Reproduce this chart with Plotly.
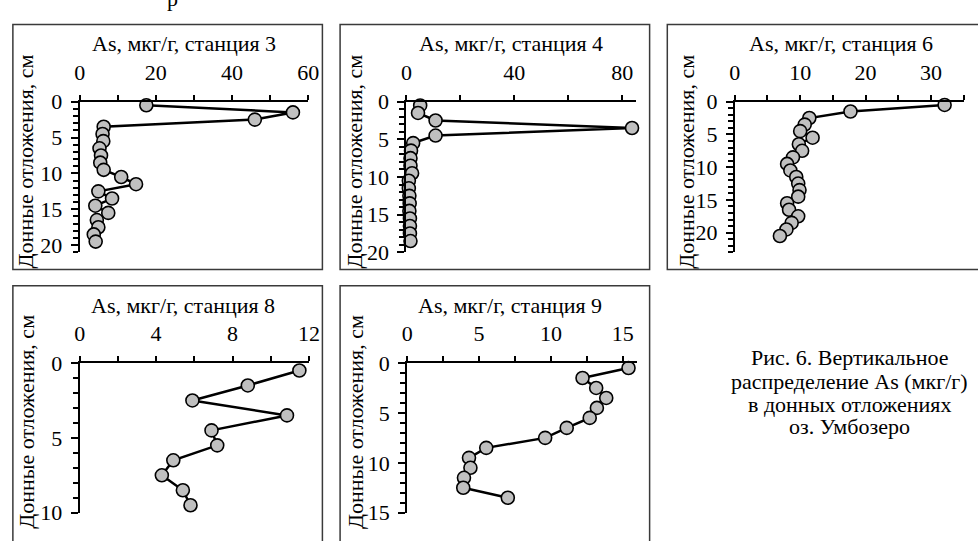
import plotly.graph_objects as go

# ---------------- data ----------------
depth_st3 = [0.5, 1.5, 2.5, 3.5, 4.5, 5.5, 6.5, 7.5, 8.5, 9.5, 10.5, 11.5, 12.5, 13.5, 14.5, 15.5, 16.5, 17.5, 18.5, 19.5]
as_st3 = [17.5, 56.0, 46.0, 6.3, 6.0, 6.2, 5.2, 5.6, 5.4, 6.3, 10.9, 14.8, 4.9, 8.5, 4.1, 7.5, 4.5, 4.9, 3.7, 4.2]

depth_st4 = [0.5, 1.5, 2.5, 3.5, 4.5, 5.5, 6.5, 7.5, 8.5, 9.5, 10.5, 11.5, 12.5, 13.5, 14.5, 15.5, 16.5, 17.5, 18.5]
as_st4 = [5.1, 4.3, 10.8, 83.6, 10.8, 2.5, 1.7, 1.5, 1.5, 2.1, 0.9, 0.9, 1.1, 1.2, 1.1, 1.3, 1.3, 1.3, 1.5]

depth_st6 = [0.5, 1.5, 2.5, 3.5, 4.5, 5.5, 6.5, 7.5, 8.5, 9.5, 10.5, 11.5, 12.5, 13.5, 14.5, 15.5, 16.5, 17.5, 18.5, 19.5, 20.5]
as_st6 = [32.1, 17.7, 11.4, 10.7, 10.0, 11.9, 9.8, 10.3, 8.9, 8.0, 8.5, 9.4, 9.7, 9.9, 9.7, 8.0, 8.3, 9.7, 8.7, 7.9, 6.9]

depth_st8 = [0.5, 1.5, 2.5, 3.5, 4.5, 5.5, 6.5, 7.5, 8.5, 9.5]
as_st8 = [11.5, 8.8, 5.9, 10.85, 6.9, 7.2, 4.9, 4.3, 5.4, 5.8]

depth_st9 = [0.5, 1.5, 2.5, 3.5, 4.5, 5.5, 6.5, 7.5, 8.5, 9.5, 10.5, 11.5, 12.5, 13.5]
as_st9 = [15.4, 12.2, 13.15, 13.85, 13.2, 12.7, 11.1, 9.6, 5.5, 4.3, 4.4, 3.95, 3.9, 7.0]

titles = ["As, мкг/г, станция 3", "As, мкг/г, станция 4", "As, мкг/г, станция 6",
          "As, мкг/г, станция 8", "As, мкг/г, станция 9"]
y_title = "Донные отложения, см"
caption_lines = ["Рис. 6. Вертикальное", "распределение As (мкг/г)",
                 "в донных отложениях", "оз. Умбозеро"]

# x ranges / tick steps (major label step, minor tick step)
x_ranges = [[0, 60], [0, 85.2], [0, 35], [0, 12], [0, 16]]
x_major = [20, 40, 10, 4, 5]
x_minor = [10, 20, 5, 2, 2.5]
y_ranges = [[21, 0], [20, 0], [23, 0], [10, 0], [15, 0]]

W, H = 978, 541
FONT = '"Liberation Serif", "DejaVu Serif", serif'


def fx(p):
    return p / W


def fy(p):
    return 1 - p / H


# plot-area pixel boxes (x0, x1, ytop, ybottom)
areas = [
    (75, 307.5, 94, 252),
    (407.5, 641.5, 94, 252),
    (741.7, 974.5, 94, 252),
    (75, 308.3, 368, 525),
    (408.3, 642.3, 368, 525),
]
# outer panel boxes (pixel)
boxes = [
    (7, 322, 13, 270),
    (340, 655, 13, 270),
    (673, 995, 13, 270),
    (7, 322, 287, 560),
    (340, 655, 287, 560),
]
title_pos = [(181, 33), (514, 33), (850, 33), (180, 308), (513, 308)]
ytitle_pos = [(20, 157), (355, 157), (693, 157), (20, 430), (355, 430)]

series = [(as_st3, depth_st3), (as_st4, depth_st4), (as_st6, depth_st6),
          (as_st8, depth_st8), (as_st9, depth_st9)]

fig = go.Figure()
layout = dict(
    width=W, height=H,
    margin=dict(l=0, r=0, t=0, b=0),
    paper_bgcolor="white", plot_bgcolor="rgba(0,0,0,0)",
    showlegend=False,
    font=dict(family=FONT, size=22, color="black"),
)

shapes = []
annotations = []

for i, ((xv, yv), (x0, x1, yt, yb)) in enumerate(zip(series, areas)):
    n = i + 1
    xa = "x" if n == 1 else f"x{n}"
    ya = "y" if n == 1 else f"y{n}"
    fig.add_trace(go.Scatter(
        x=xv, y=yv, xaxis=xa, yaxis=ya, mode="lines+markers",
        line=dict(color="black", width=2.5),
        marker=dict(size=13, color="#c0c0c0", line=dict(color="black", width=1.6)),
        cliponaxis=False,
    ))
    xkey = "xaxis" if n == 1 else f"xaxis{n}"
    ykey = "yaxis" if n == 1 else f"yaxis{n}"
    layout[xkey] = dict(
        domain=[fx(x0), fx(x1)], anchor=ya, side="top",
        range=x_ranges[i], dtick=x_major[i], tick0=0,
        showgrid=False, zeroline=False,
        showline=True, linecolor="black", linewidth=2,
        ticks="outside", ticklen=5, tickwidth=2, tickcolor="black",
        minor=dict(dtick=x_minor[i], tick0=0, ticks="outside", ticklen=5,
                   tickwidth=2, tickcolor="black", showgrid=False),
        tickfont=dict(family=FONT, size=22, color="black"),
        ticklabelstandoff=6,
        fixedrange=True,
    )
    layout[ykey] = dict(
        domain=[fy(yb), fy(yt)], anchor=xa,
        range=y_ranges[i], dtick=5, tick0=0,
        showgrid=False, zeroline=False,
        showline=True, linecolor="black", linewidth=2,
        ticks="outside", ticklen=7, tickwidth=2, tickcolor="black",
        minor=dict(dtick=1, tick0=0, ticks="outside", ticklen=5,
                   tickwidth=2, tickcolor="black", showgrid=False),
        tickfont=dict(family=FONT, size=22, color="black"),
        ticklabelstandoff=4,
        fixedrange=True,
    )
    bx0, bx1, by0, by1 = boxes[i]
    shapes.append(dict(type="rect", xref="paper", yref="paper",
                       x0=fx(bx0), x1=fx(bx1), y0=fy(by1), y1=fy(by0),
                       line=dict(color="#3a3a3a", width=1.5), layer="below"))
    tx, ty = title_pos[i]
    annotations.append(dict(text=titles[i], xref="paper", yref="paper",
                            x=fx(tx), y=fy(ty), xanchor="center", yanchor="middle",
                            showarrow=False, font=dict(family=FONT, size=22, color="black")))
    ax, ay = ytitle_pos[i]
    annotations.append(dict(text=y_title, xref="paper", yref="paper",
                            x=fx(ax), y=fy(ay), xanchor="center", yanchor="middle",
                            textangle=-90, showarrow=False,
                            font=dict(family=FONT, size=22, color="black")))

# caption
cap_y = [362, 387, 411, 435]
for line, cy in zip(caption_lines, cap_y):
    annotations.append(dict(text=line, xref="paper", yref="paper",
                            x=fx(858), y=fy(cy), xanchor="center", yanchor="middle",
                            showarrow=False, font=dict(family=FONT, size=22, color="black")))

# cut-off letter at the very top of the page
annotations.append(dict(text="р", xref="paper", yref="paper",
                        x=fx(169), y=fy(-14), xanchor="center", yanchor="middle",
                        showarrow=False, font=dict(family=FONT, size=22, color="black")))

layout["shapes"] = shapes
layout["annotations"] = annotations
fig.update_layout(**layout)
fig.write_html("out.html")
